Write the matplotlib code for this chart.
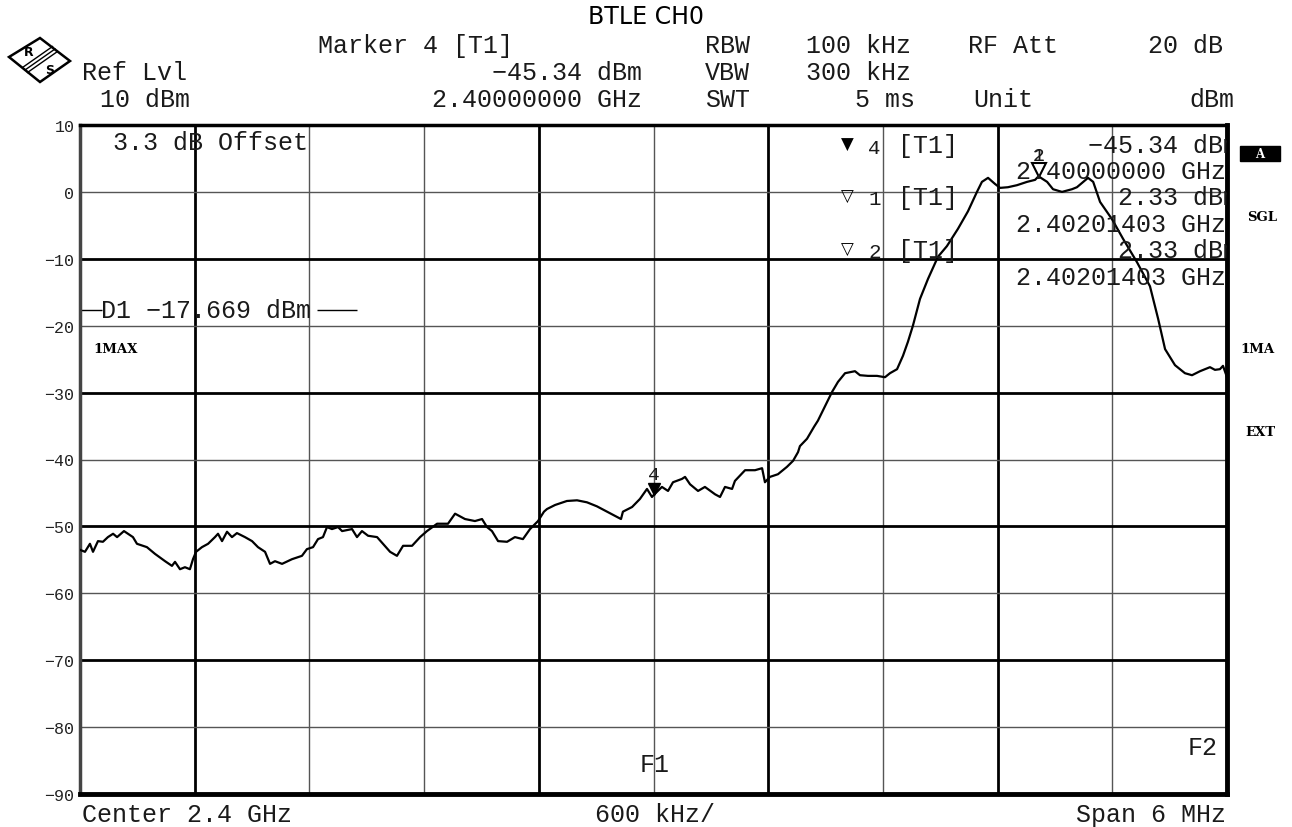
import numpy as np
import matplotlib.pyplot as plt
from matplotlib.patches import Polygon, Rectangle
from matplotlib.transforms import offset_copy

# trace: offset from 2.4 GHz centre (kHz) vs level (dBm)
freq_khz = [-3000, -2974, -2948, -2932, -2906, -2880, -2854, -2827, -2806, -2770,
            -2723, -2702, -2650, -2608, -2555, -2519, -2503, -2477, -2451, -2425,
            -2409, -2393, -2362, -2330, -2294, -2278, -2257, -2231, -2205, -2179,
            -2137, -2100, -2069, -2032, -2006, -1980, -1943, -1891, -1839, -1813,
            -1781, -1755, -1729, -1708, -1682, -1650, -1629, -1577, -1551, -1525,
            -1493, -1446, -1415, -1378, -1342, -1310, -1263, -1221, -1185, -1132,
            -1075, -1038, -986, -934, -897, -871, -845, -813, -766, -725,
            -683, -646, -604, -573, -557, -515, -453, -400, -348, -296,
            -243, -191, -170, -160, -112, -71, -34, -8, 0, 44,
            76, 102, 149, 165, 191, 233, 269, 322, 348, 374,
            411, 426, 479, 531, 568, 583, 609, 651, 698, 730,
            756, 766, 803, 840, 860, 908, 934, 965, 1002, 1054,
            1080, 1122, 1169, 1211, 1237, 1274, 1305, 1331, 1357, 1394,
            1436, 1488, 1535, 1593, 1645, 1692, 1718, 1750, 1786, 1813,
            1854, 1901, 1954, 1996, 2014, 2059, 2090, 2137, 2189, 2215,
            2273, 2300, 2336, 2399, 2456, 2529, 2597, 2640, 2676, 2728,
            2780, 2817, 2859, 2911, 2937, 2963, 2979, 3000]
level_dbm = [-53.5, -53.8, -52.6, -53.8, -52.2, -52.3, -51.6, -51.1, -51.6, -50.7,
             -51.6, -52.6, -53.1, -54.1, -55.2, -55.9, -55.3, -56.4, -56.1, -56.4,
             -54.9, -53.8, -53.1, -52.6, -51.6, -51.1, -52.2, -50.8, -51.6, -51.0,
             -51.6, -52.2, -53.1, -53.8, -55.6, -55.2, -55.6, -54.9, -54.4, -53.4,
             -53.1, -51.9, -51.6, -50.1, -50.4, -50.1, -50.7, -50.4, -51.6, -50.7,
             -51.4, -51.6, -52.6, -53.8, -54.4, -52.9, -52.9, -51.6, -50.7, -49.6,
             -49.6, -48.1, -48.9, -49.2, -48.9, -50.1, -50.7, -52.2, -52.3, -51.6,
             -51.9, -50.4, -49.2, -47.8, -47.4, -46.8, -46.2, -46.1, -46.4, -47.0,
             -47.8, -48.6, -48.9, -47.8, -47.1, -45.9, -44.4, -45.6, -45.34, -44.1,
             -44.7, -43.4, -42.9, -42.6, -43.7, -44.7, -44.1, -45.2, -45.6, -44.1,
             -44.4, -43.2, -41.6, -41.6, -41.3, -43.4, -42.6, -42.2, -41.1, -40.2,
             -38.9, -38.0, -36.9, -35.1, -34.2, -31.4, -29.9, -28.4, -27.1, -26.8,
             -27.4, -27.5, -27.5, -27.7, -27.1, -26.5, -24.5, -22.4, -20.0, -16.0,
             -13.0, -9.7, -8.1, -5.5, -2.9, 0.0, 1.5, 2.1, 1.2, 0.6,
             0.7, 1.0, 1.5, 1.8, 2.33, 1.5, 0.4, 0.0, 0.4, 0.7,
             2.1, 1.5, -1.5, -4.1, -7.0, -10.5, -14.1, -19.0, -23.5, -25.9,
             -27.1, -27.4, -26.8, -26.2, -26.6, -26.5, -26.0, -27.7]

y_ticks = [10, 0, -10, -20, -30, -40, -50, -60, -70, -80, -90]
y_labels = ['10', '0', '\u221210', '\u221220', '\u221230', '\u221240', '\u221250',
            '\u221260', '\u221270', '\u221280', '\u221290']
x_grid = [-2400, -1800, -1200, -600, 0, 600, 1200, 1800, 2400]
thick_x = [-2400, -600, 600, 1800]
y_grid = [0, -10, -20, -30, -40, -50, -60, -70, -80]
thick_y = [-10, -30, -50, -70]

marker4 = (0, -45.34)
marker12 = (2014, 2.33)
d1_level = -17.669

MONO = 'Liberation Mono'
INK = '#1a1a1a'
W, H = 1292, 828

fig = plt.figure(figsize=(W / 100, H / 100), dpi=100)
ax = fig.add_axes([80 / W, 1 - 795 / H, 1147 / W, 669 / H])
ax.set_xlim(-3000, 3000)
ax.set_ylim(-90, 10)

for xv in x_grid:
    if xv in thick_x:
        ax.axvline(xv, color='black', lw=2.0, zorder=1)
    else:
        ax.axvline(xv, color='#555555', lw=1.0, zorder=1)
for yv in y_grid:
    if yv in thick_y:
        ax.axhline(yv, color='black', lw=2.0, zorder=1)
    else:
        ax.axhline(yv, color='#555555', lw=1.0, zorder=1)

# display line D1
ax.hlines(d1_level, -3000, -2885, color='black', lw=1.0, zorder=2)
ax.hlines(d1_level, -1760, -1551, color='black', lw=1.0, zorder=2)

ax.plot(freq_khz, level_dbm, color='black', lw=1.6, zorder=3)

# markers
up6 = offset_copy(ax.transData, fig=fig, x=0, y=6, units='dots')
ax.plot([marker4[0]], [marker4[1]], marker='v', color='black', ms=9,
        transform=up6, zorder=4, clip_on=False)
ax.annotate('4', xy=marker4, xytext=(0, 21), textcoords='offset pixels',
            ha='center', va='center', fontsize=14, family=MONO, color=INK)
ax.plot([marker12[0]], [marker12[1]], marker='v', mfc='white', mec='black',
        mew=1.5, ms=10, transform=up6, zorder=4, clip_on=False)
# markers 1 and 2 sit on the same point, so their labels print on top of each other
for lbl in ['1', '2']:
    ax.annotate(lbl, xy=marker12, xytext=(0, 21), textcoords='offset pixels',
                ha='center', va='center', fontsize=14, family=MONO, color=INK)

ax.set_xticks([])
ax.set_yticks(y_ticks)
ax.set_yticklabels(y_labels)
ax.tick_params(axis='y', length=0, pad=4, labelsize=12)
for t in ax.get_yticklabels():
    t.set_fontfamily(MONO)
    t.set_color('#222222')

ax.spines['left'].set_linewidth(2.5)
ax.spines['left'].set_color('#444444')
ax.spines['top'].set_linewidth(2.5)
ax.spines['right'].set_linewidth(3.5)
ax.spines['bottom'].set_linewidth(3.5)

# overlay in pixel coordinates for the instrument annotations
ov = fig.add_axes([0, 0, 1, 1], zorder=5)
ov.set_xlim(0, W)
ov.set_ylim(H, 0)
ov.axis('off')
ov.patch.set_alpha(0)


def txt(x, y, s, ha='left', size=18, clip=False, **kw):
    t = ov.text(x, y, s, ha=ha, va='center', fontsize=size,
                family=[MONO, 'DejaVu Sans'], color=INK, **kw)
    if clip:
        t.set_clip_box(ax.bbox)
        t.set_clip_on(True)
    return t


def tag(x, y, s, ha='center'):
    ov.text(x, y, s, ha=ha, va='center', fontsize=9.5, fontweight='bold',
            family='DejaVu Serif')


ov.text(W / 2, 17, 'BTLE CH0', ha='center', va='center', fontsize=17,
        family='DejaVu Sans')

# header block
txt(318, 46, 'Marker 4 [T1]')
txt(705, 46, 'RBW')
txt(806, 46, '100 kHz')
txt(968, 46, 'RF Att')
txt(1148, 46, '20 dB')
txt(82, 73, 'Ref Lvl')
txt(642, 73, '\u221245.34 dBm', ha='right')
txt(705, 73, 'VBW')
txt(806, 73, '300 kHz')
txt(100, 100, '10 dBm')
txt(642, 100, '2.40000000 GHz', ha='right')
txt(705, 100, 'SWT')
txt(855, 100, '5 ms')
txt(973, 100, 'Unit')
txt(1234, 100, 'dBm', ha='right')

# R&S logo
ov.add_patch(Polygon([(9, 58), (40, 39), (70, 62), (40, 83)], closed=True,
                     fill=False, ec='black', lw=1.8))
for d in (-2.5, 0, 2.5):
    ov.plot([25 + d, 55 + d], [71 + d, 50 + d], color='black', lw=1.0)
ov.text(29, 53, 'R', ha='center', va='center', fontsize=9, fontweight='bold',
        family='DejaVu Sans')
ov.text(50, 70, 'S', ha='center', va='center', fontsize=9, fontweight='bold',
        family='DejaVu Sans')

# texts inside the screen
txt(113, 143, '3.3 dB Offset')
txt(101, 311, 'D1 \u221217.669 dBm')
tag(93, 350, '1MAX', ha='left')

ov.text(847, 145, '\u25bc', ha='center', va='center', fontsize=12, family='DejaVu Sans')
txt(868, 148, '4', size=15)
txt(898, 146, '[T1]')
txt(1238, 146, '\u221245.34 dBm', ha='right', clip=True)
txt(1226, 172, '2.40000000 GHz', ha='right', clip=True)
ov.text(847, 197, '\u25bd', ha='center', va='center', fontsize=12, family='DejaVu Sans')
txt(868, 200, '1', size=15)
txt(898, 198, '[T1]')
txt(1238, 198, '2.33 dBm', ha='right', clip=True)
txt(1226, 225, '2.40201403 GHz', ha='right', clip=True)
ov.text(847, 250, '\u25bd', ha='center', va='center', fontsize=12, family='DejaVu Sans')
txt(868, 253, '2', size=15)
txt(898, 251, '[T1]')
txt(1238, 251, '2.33 dBm', ha='right', clip=True)
txt(1226, 278, '2.40201403 GHz', ha='right', clip=True)

txt(640, 765, 'F1')
txt(1218, 748, 'F2', ha='right')

# right-hand status labels
ov.add_patch(Rectangle((1240, 147), 40, 15, color='black'))
ov.text(1260, 154.5, 'A', ha='center', va='center', fontsize=8.5, fontweight='bold',
        family='DejaVu Serif', color='white')
tag(1262, 218, 'SGL')
tag(1257, 350, '1MA')
tag(1260, 433, 'EXT')

# footer
txt(82, 815, 'Center 2.4 GHz')
txt(595, 815, '600 kHz/')
txt(1226, 815, 'Span 6 MHz', ha='right')

fig.savefig('out.png', dpi=100)
